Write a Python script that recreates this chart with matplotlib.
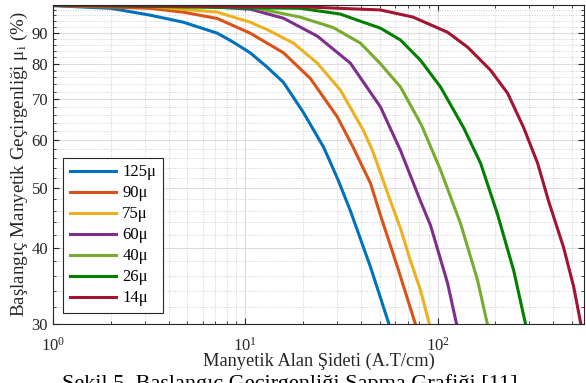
import matplotlib
matplotlib.use("Agg")
import matplotlib.pyplot as plt
from matplotlib.ticker import FixedLocator, FixedFormatter, NullFormatter, LogLocator

plt.rcParams['font.family'] = ['Liberation Serif', 'DejaVu Serif']
plt.rcParams['mathtext.fontset'] = 'custom'
plt.rcParams['mathtext.rm'] = 'Liberation Serif'
plt.rcParams['mathtext.it'] = 'Liberation Serif:italic'

# curves (H in A.T/cm, mu_i in %)
labels = ['125μ', '90μ', '75μ', '60μ', '40μ', '26μ', '14μ']
colors = ['#0072BD', '#D95319', '#EDB120', '#7E2F8E', '#77AC30', '#008000', '#A2142F']

h_125 = [1, 2, 3.2, 4.75, 7.15, 8.66, 10.6, 13, 15.8, 20, 25.5, 27.7, 30.5, 35.2, 44.8, 56.5]
mu_125 = [99.6, 98.6, 96.1, 93.6, 89.8, 86.8, 83.4, 79.0, 74.6, 66.7, 58.5, 55.2, 51.5, 46.0, 37.2, 29.7]

h_90 = [1, 3.2, 4.75, 7.15, 10.6, 15.8, 21.8, 30.1, 36.5, 44.8, 50.5, 61.9, 77.5]
mu_90 = [99.7, 98.6, 97.2, 94.9, 89.8, 83.4, 75.7, 65.5, 58.3, 51.0, 45.2, 37.2, 29.7]

h_75 = [1, 3.2, 7.15, 10.6, 13, 17.8, 23.7, 31.2, 41.2, 45.9, 56.9, 64.2, 72.3, 81.5, 91.5]
mu_75 = [99.7, 99.3, 97.2, 93.6, 91.0, 86.5, 80.2, 72.5, 62.2, 57.7, 47.7, 43.0, 38.1, 34.1, 29.7]

h_60 = [1, 5.8, 10.6, 15.8, 23.7, 35.2, 50.5, 64.2, 81.5, 92, 112.8, 126.5]
mu_60 = [99.7, 99.4, 98.3, 95.0, 88.8, 80.2, 68.0, 57.7, 47.7, 43.5, 35.0, 29.7]

h_40 = [1, 10.6, 19.3, 28.7, 39.7, 50.5, 64.2, 82.5, 103.7, 131.8, 161.5, 183]
mu_40 = [99.7, 99.1, 95.4, 91.7, 86.5, 80.0, 73.3, 63.5, 53.6, 43.8, 35.4, 29.7]

h_26 = [1, 19.3, 31.2, 38.3, 50.5, 64.2, 81.5, 103.7, 136.6, 167.5, 205, 249, 289]
mu_26 = [99.7, 98.6, 96.5, 94.3, 91.5, 87.5, 81.1, 73.3, 62.9, 55.0, 45.4, 36.7, 29.7]

h_14 = [1, 19.3, 50.5, 74.6, 112.8, 143.3, 188.7, 231.5, 280.5, 331.6, 378, 453, 511, 560]
mu_14 = [99.8, 99.2, 98.0, 95.4, 90.1, 85.2, 78.1, 71.6, 62.9, 55.0, 47.7, 40.0, 34.5, 29.7]

series_h = [h_125, h_90, h_75, h_60, h_40, h_26, h_14]
series_mu = [mu_125, mu_90, mu_75, mu_60, mu_40, mu_26, mu_14]

y_major = [30, 40, 50, 60, 70, 80, 90]

fig = plt.figure(figsize=(5.86, 3.83), dpi=100)
ax = fig.add_axes([0.0904, 0.154, 0.9062, 0.834])

for h, mu, lab, c in zip(series_h, series_mu, labels, colors):
    ax.plot(h, mu, color=c, lw=2.2, label=lab, solid_joinstyle='round')

ax.set_xscale('log')
ax.set_yscale('log')
ax.set_xlim(1, 578)
ax.set_ylim(30, 100)

ax.yaxis.set_major_locator(FixedLocator(y_major))
ax.yaxis.set_major_formatter(FixedFormatter([str(v) for v in y_major]))
ax.yaxis.set_minor_locator(FixedLocator([v for v in range(30, 100, 2) if v % 10 != 0]))
ax.yaxis.set_minor_formatter(NullFormatter())
ax.xaxis.set_major_locator(LogLocator(base=10))
ax.xaxis.set_minor_locator(LogLocator(base=10, subs=range(2, 10)))
ax.xaxis.set_minor_formatter(NullFormatter())

ax.grid(True, which='major', color='#dcdcdc', lw=0.8, ls='-')
ax.grid(True, which='minor', color='#d0d0d0', lw=0.7, ls=(0, (1, 1.5)))
ax.set_axisbelow(True)

ax.tick_params(which='both', direction='in', top=True, right=True,
               labelsize=12, colors='#262626')
ax.tick_params(which='major', length=4, width=0.8)
ax.tick_params(which='minor', length=2, width=0.6)
ax.tick_params(axis='x', pad=9)
for s in ax.spines.values():
    s.set_color('#262626')
    s.set_linewidth(0.8)

ax.set_xlabel('Manyetik Alan Şideti (A.T/cm)', fontsize=13.2, color='#262626', labelpad=-1)
ax.set_ylabel('Başlangıç Manyetik Geçirgenliği μ$_\\mathregular{i}$ (%)', fontsize=13.7,
              color='#262626', labelpad=1)

leg = ax.legend(loc='lower left', bbox_to_anchor=(0.019, 0.034), borderaxespad=0,
                fontsize=12, handlelength=2.8, handletextpad=0.35, labelspacing=0.3,
                borderpad=0.4, fancybox=False, framealpha=1, edgecolor='#262626')
leg.get_frame().set_linewidth(0.8)

fig.text(0.495, 0.024, 'Şekil 5. Başlangıç Geçirgenliği Sapma Grafiği [11]',
         fontsize=16, ha='center', va='top', color='black')

fig.savefig('out.png', dpi=100)
